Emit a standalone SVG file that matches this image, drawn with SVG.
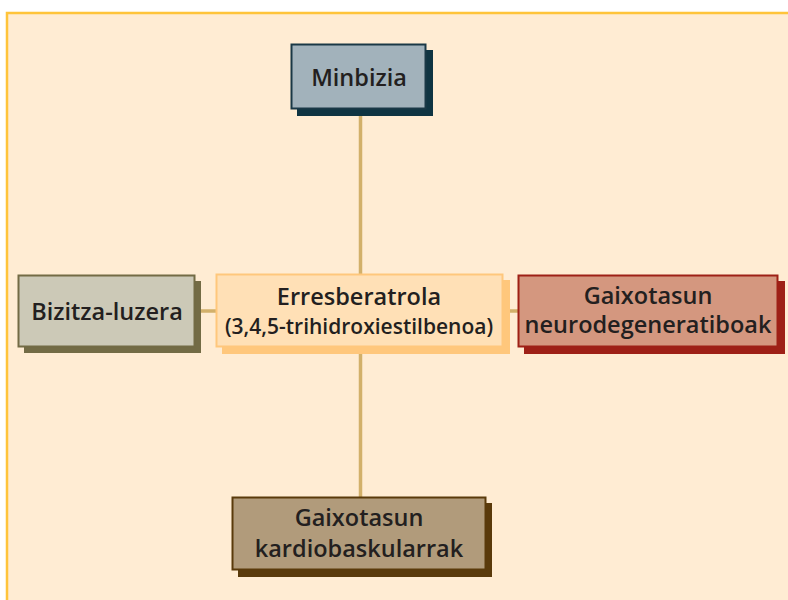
<svg xmlns="http://www.w3.org/2000/svg" width="788" height="600" viewBox="0 0 788 600">
<style>
text{font-family:"Open Sans","Noto Sans","Liberation Sans",sans-serif;font-weight:600;fill:#231f20;text-anchor:middle}
.t{font-size:23.5px}
.s{font-size:21px}
.conn line{stroke:#d2b06a;stroke-width:3.5}
</style>
<rect x="0" y="0" width="788" height="600" fill="#ffffff"/>
<rect x="7" y="13" width="790" height="600" fill="#ffecd3" stroke="#ffc43a" stroke-width="2.5"/>
<g class="conn" id="connectors">
<line x1="360.5" y1="116" x2="360.5" y2="497"/>
<line x1="195" y1="311" x2="518" y2="311"/>
</g>
<g id="minbizia">
<rect x="297" y="50" width="136" height="66" fill="#0f3442"/>
<rect x="291.5" y="44.5" width="134" height="64" fill="#a2b2bb" stroke="#1a3846" stroke-width="2"/>
<text class="t" x="359" y="86">Minbizia</text>
</g>
<g id="bizitza">
<rect x="24" y="281" width="177" height="72" fill="#736b45"/>
<rect x="18.5" y="275.5" width="176" height="71" fill="#ccc9b7" stroke="#736b45" stroke-width="2"/>
<text class="t" x="107" y="320">Bizitza-luzera</text>
</g>
<g id="erresberatrola">
<rect x="222" y="280" width="288" height="74" fill="#ffc77c"/>
<rect x="216.5" y="274.5" width="286" height="72" fill="#ffe0b6" stroke="#ffc77c" stroke-width="2"/>
<text class="t" x="359" y="305">Erresberatrola</text>
<text class="s" x="359" y="334">(3,4,5-trihidroxiestilbenoa)</text>
</g>
<g id="neuro">
<rect x="524" y="281" width="261" height="73" fill="#9e2016"/>
<rect x="518.5" y="275.5" width="259" height="71" fill="#d4977f" stroke="#9e2016" stroke-width="2"/>
<text class="t" x="648" y="304">Gaixotasun</text>
<text class="t" x="648" y="333">neurodegeneratiboak</text>
</g>
<g id="kardio">
<rect x="238" y="503" width="254" height="74" fill="#5a3a0b"/>
<rect x="232.5" y="497.5" width="253" height="72" fill="#b19b7b" stroke="#5a3a0b" stroke-width="2"/>
<text class="t" x="359" y="526">Gaixotasun</text>
<text class="t" x="359" y="557">kardiobaskularrak</text>
</g>
</svg>
